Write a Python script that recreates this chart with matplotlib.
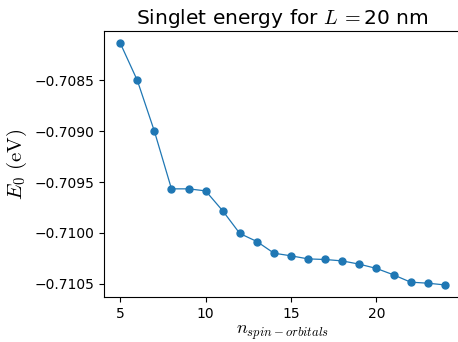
import numpy as np
import matplotlib.pyplot as plt

plt.rcParams['mathtext.fontset'] = 'cm'

# Data
n_orbitals = [5, 6, 7, 8, 9, 10, 11, 12, 13, 14, 15, 16, 17, 18, 19, 20, 21, 22, 23, 24]
energy = [-0.708133, -0.708500, -0.709000, -0.709567, -0.709567, -0.709587,
          -0.709783, -0.710006, -0.710085, -0.710200, -0.710226, -0.710256,
          -0.710262, -0.710276, -0.710308, -0.710350, -0.710413, -0.710485,
          -0.710495, -0.710512]
L = 20

fig = plt.figure(figsize=(4.58, 3.42), dpi=100)
ax = fig.add_axes([104/458, 45/342, 357/458, 266/342])

ax.plot(n_orbitals, energy, marker='o', markersize=5, linewidth=0.9, color='#1f77b4')

ax.set_xticks([5, 10, 15, 20])
ax.set_yticks([-0.7085, -0.7090, -0.7095, -0.7100, -0.7105])
ax.yaxis.set_major_formatter(plt.FuncFormatter(lambda v, p: f'{v:.4f}'.replace('-', '\u2212')))
ax.tick_params(labelsize=10)

ax.set_title(r'Singlet energy for $L$' + '\u2009' + r'$=$' + f'{L} nm', fontsize=14.5, pad=5)
ax.set_xlabel(r'$n_{spin-orbitals}$', fontsize=13, labelpad=2.5)
ax.set_ylabel(r'$E_0\ \mathrm{(eV)}$', fontsize=15)

fig.savefig('out.png', dpi=100)
